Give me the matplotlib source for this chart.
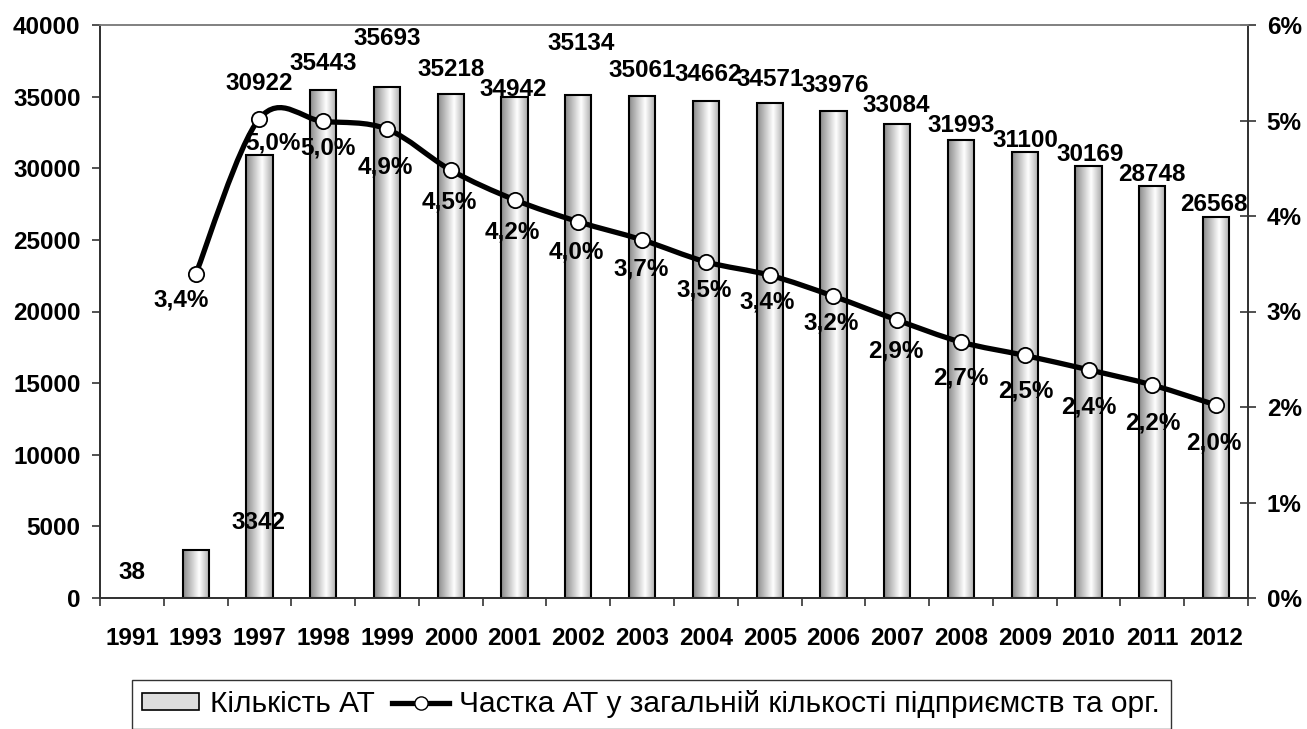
import numpy as np
import matplotlib
matplotlib.use('Agg')
import matplotlib.pyplot as plt
from matplotlib.path import Path
from matplotlib.patches import PathPatch
from matplotlib.colors import LinearSegmentedColormap
from matplotlib.lines import Line2D
from matplotlib.patches import Patch

plt.rcParams['font.family'] = ['Liberation Sans', 'DejaVu Sans']

# Дані
years = ['1991', '1993', '1997', '1998', '1999', '2000', '2001', '2002', '2003',
         '2004', '2005', '2006', '2007', '2008', '2009', '2010', '2011', '2012']
count_at = [38, 3342, 30922, 35443, 35693, 35218, 34942, 35134, 35061,
            34662, 34571, 33976, 33084, 31993, 31100, 30169, 28748, 26568]
# частка АТ, % (для 1991 немає даних)
share_at = [np.nan, 3.39, 5.02, 4.99, 4.91, 4.48, 4.17, 3.94, 3.75,
            3.52, 3.38, 3.16, 2.91, 2.68, 2.54, 2.39, 2.23, 2.02]
share_lbl = ['', '3,4%', '5,0%', '5,0%', '4,9%', '4,5%', '4,2%', '4,0%', '3,7%',
             '3,5%', '3,4%', '3,2%', '2,9%', '2,7%', '2,5%', '2,4%', '2,2%', '2,0%']

# положення підписів (зміщення по x у категоріях, по y у одиницях осі)
cnt_lbl_dx = [0, 0.98, 0, 0, 0, 0, -0.02, 0.05, 0, 0.03, 0, 0.03, -0.01, 0, 0.01, 0.02, 0, -0.03]
cnt_lbl_y = [1815, 5236, 35951, 37347, 39092, 36859, 35532, 38674, 36789,
             36510, 36161, 35742, 34415, 33019, 31972, 30925, 29529, 27435]
pct_lbl_dx = [0, -0.22, 0.21, 0.08, -0.03, -0.02, -0.04, -0.03, -0.02,
              -0.02, -0.04, -0.03, -0.02, 0, 0.02, 0.01, 0, -0.03]
pct_lbl_y = [0, 3.12, 4.76, 4.71, 4.51, 4.15, 3.83, 3.62, 3.45,
             3.23, 3.10, 2.88, 2.59, 2.30, 2.17, 2.00, 1.83, 1.62]

FS = 17.5
x = np.arange(len(years))

fig = plt.figure(figsize=(13.07, 7.29), dpi=100)
ax = fig.add_axes([100 / 1307, 1 - 598 / 729, 1148 / 1307, 573 / 729])
ax2 = ax.twinx()

# стовпці з градієнтом
cmap = LinearSegmentedColormap.from_list('bar', [(0, '#8a8a8a'), (0.6, '#ffffff'), (1, '#a8a8a8')])
grad = np.linspace(0, 1, 256).reshape(1, -1)
bars = ax.bar(x, count_at, width=0.41, facecolor='none', edgecolor='black', linewidth=1.5, zorder=3)
for b in bars:
    if b.get_height() < 100:
        b.set_linewidth(0)
        continue
    im = ax.imshow(grad, cmap=cmap, aspect='auto', zorder=2,
                   extent=[b.get_x(), b.get_x() + b.get_width(), 0, b.get_height()])
    im.set_clip_path(b)

ax.set_xlim(-0.5, len(years) - 0.5)
ax.set_ylim(0, 40000)
ax.set_yticks(np.arange(0, 40001, 5000))
ax.set_xticks(x)
ax.set_xticklabels(years, fontsize=FS, fontweight='bold')
ax.set_xticks(np.arange(-0.5, len(years), 1), minor=True)
ax.tick_params(axis='x', which='major', length=0, pad=21)
ax.tick_params(axis='x', which='minor', length=6, width=1.2, direction='out', color='#333333')
ax.tick_params(axis='y', length=6, width=1.2, direction='out', pad=8, labelsize=FS, color='#333333')
for t in ax.get_yticklabels():
    t.set_fontweight('bold')

# лінія частки (згладжена, як у Excel)
ax2.set_ylim(0, 6)
ax2.set_yticks(range(0, 7))
ax2.set_yticklabels([f'{i}%' for i in range(0, 7)], fontsize=FS, fontweight='bold')
ax2.tick_params(axis='y', length=11, width=1.2, direction='inout', pad=8, color='#333333')

pts = np.array([(xi, yi) for xi, yi in zip(x, share_at) if not np.isnan(yi)])
verts = [tuple(pts[0])]
codes = [Path.MOVETO]
n = len(pts)
for i in range(n - 1):
    p0 = pts[max(i - 1, 0)]
    p1 = pts[i]
    p2 = pts[i + 1]
    p3 = pts[min(i + 2, n - 1)]
    c1 = p1 + (p2 - p0) / 6
    c2 = p2 - (p3 - p1) / 6
    verts += [tuple(c1), tuple(c2), tuple(p2)]
    codes += [Path.CURVE4] * 3
ax2.add_patch(PathPatch(Path(verts, codes), facecolor='none', edgecolor='black', linewidth=3.8, zorder=4))
ax2.plot(pts[:, 0], pts[:, 1], linestyle='none', marker='o', markersize=11,
         markerfacecolor='white', markeredgecolor='black', markeredgewidth=1.3, zorder=5)

# підписи
for i in range(len(years)):
    ax.text(x[i] + cnt_lbl_dx[i], cnt_lbl_y[i], str(count_at[i]), ha='center', va='center',
            fontsize=FS, fontweight='bold', zorder=6)
    if share_lbl[i]:
        ax2.text(x[i] + pct_lbl_dx[i], pct_lbl_y[i], share_lbl[i], ha='center', va='center',
                 fontsize=FS, fontweight='bold', zorder=6)

for a in (ax, ax2):
    a.spines['top'].set_color('#808080')
    a.spines['top'].set_linewidth(1.2)
    for s in ('left', 'right', 'bottom'):
        a.spines[s].set_color('#333333')
        a.spines[s].set_linewidth(1.3)

# легенда
h_bar = Patch(facecolor='#dddddd', edgecolor='black', linewidth=1.2)
h_line = Line2D([], [], color='black', linewidth=3.8, marker='o', markersize=9.5,
                markerfacecolor='white', markeredgecolor='black')
leg = fig.legend([h_bar, h_line],
                 ['Кількість АТ', 'Частка АТ у загальній кількості підприємств та орг.'],
                 loc='upper left', bbox_to_anchor=(132 / 1307, 1 - 680 / 729), ncol=2,
                 frameon=True, fancybox=False, fontsize=21.5, handlelength=1.9, handleheight=0.5,
                 columnspacing=0.6, handletextpad=0.35, borderpad=0.35, borderaxespad=0)
leg.get_frame().set_edgecolor('black')
leg.get_frame().set_linewidth(1.0)

fig.savefig('out.png', dpi=100)
